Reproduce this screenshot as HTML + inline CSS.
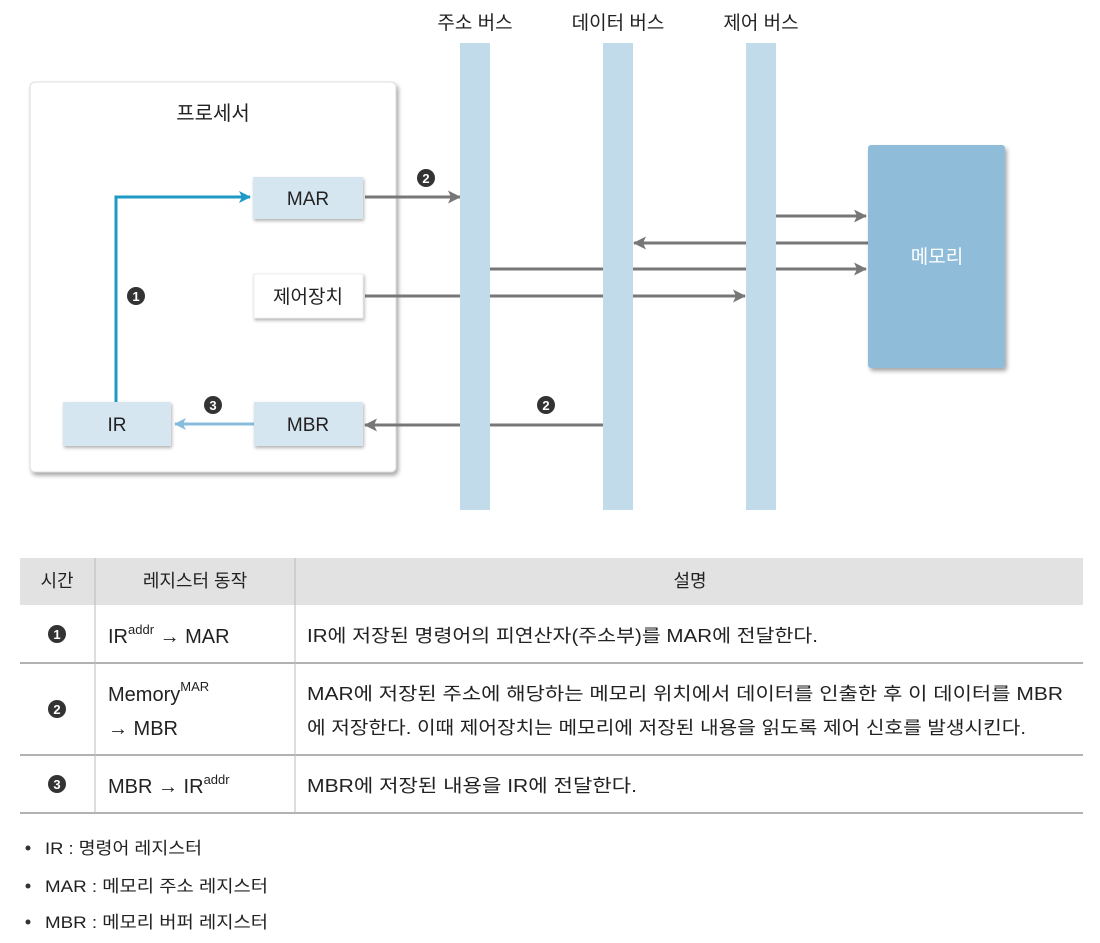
<!DOCTYPE html>
<html><head><meta charset="utf-8"><style>
html,body{margin:0;padding:0;background:#fff;}
svg text{font-family:"Liberation Sans","Noto Sans CJK KR",sans-serif;fill:#222;}
</style></head><body>
<svg width="1100" height="938" viewBox="0 0 1100 938" xmlns="http://www.w3.org/2000/svg">
<defs>
<filter id="sh" x="-10%" y="-10%" width="130%" height="130%"><feDropShadow dx="2" dy="3" stdDeviation="2" flood-color="#000" flood-opacity="0.35"/></filter>
<filter id="sh2" x="-10%" y="-10%" width="130%" height="130%"><feDropShadow dx="1" dy="2" stdDeviation="1.5" flood-color="#000" flood-opacity="0.3"/></filter>
<marker id="ag" markerWidth="13" markerHeight="13" refX="12" refY="6.5" orient="auto" markerUnits="userSpaceOnUse"><path d="M0,0 L13,6.5 L0,13 L3,6.5 Z" fill="#777"/></marker>
<marker id="ab" markerWidth="12" markerHeight="12" refX="11" refY="6" orient="auto" markerUnits="userSpaceOnUse"><path d="M0,0 L12,6 L0,12 L3,6 Z" fill="#1e9ac6"/></marker>
<marker id="al" markerWidth="12" markerHeight="12" refX="11" refY="6" orient="auto" markerUnits="userSpaceOnUse"><path d="M0,0 L12,6 L0,12 L3,6 Z" fill="#86bcdc"/></marker>
</defs>

<text x="475" y="29" font-size="19" text-anchor="middle">주소 버스</text>
<text x="618" y="29" font-size="19" text-anchor="middle">데이터 버스</text>
<text x="761" y="29" font-size="19" text-anchor="middle">제어 버스</text>

<rect x="30" y="82" width="366" height="390" rx="5" fill="#fff" stroke="#ddd" filter="url(#sh)"/>
<text x="213" y="120" font-size="20" text-anchor="middle">프로세서</text>

<g stroke="#777" stroke-width="3" fill="none">
<line x1="365" y1="197" x2="460" y2="197" marker-end="url(#ag)"/>
<line x1="776" y1="216" x2="866" y2="216" marker-end="url(#ag)"/>
<line x1="868" y1="243" x2="634" y2="243" marker-end="url(#ag)"/>
<line x1="490" y1="269" x2="866" y2="269" marker-end="url(#ag)"/>
<line x1="365" y1="296" x2="745" y2="296" marker-end="url(#ag)"/>
<line x1="603" y1="425" x2="365" y2="425" marker-end="url(#ag)"/>
</g>

<rect x="460" y="43" width="30" height="467" fill="#c2dbea"/>
<rect x="603" y="43" width="30" height="467" fill="#c2dbea"/>
<rect x="746" y="43" width="30" height="467" fill="#c2dbea"/>

<rect x="868" y="145" width="137" height="223" rx="3" fill="#8fbdd9" filter="url(#sh)"/>
<text x="937" y="263" font-size="19" text-anchor="middle" style="fill:#fff">메모리</text>

<polyline points="116,402 116,197 250,197" stroke="#1e9ac6" stroke-width="3" fill="none" marker-end="url(#ab)"/>
<line x1="254" y1="424" x2="175" y2="424" stroke="#86bcdc" stroke-width="3" marker-end="url(#al)"/>

<rect x="253" y="177" width="110" height="42" fill="#d6e6f1" filter="url(#sh2)"/>
<text x="308" y="205" font-size="19" text-anchor="middle">MAR</text>
<rect x="254" y="274" width="109" height="44" fill="#fff" stroke="#eee" filter="url(#sh2)"/>
<text x="308" y="303" font-size="19" text-anchor="middle">제어장치</text>
<rect x="63" y="402" width="108" height="44" fill="#d6e6f1" filter="url(#sh2)"/>
<text x="117" y="431" font-size="19" text-anchor="middle">IR</text>
<rect x="254" y="402" width="109" height="44" fill="#d6e6f1" filter="url(#sh2)"/>
<text x="308" y="431" font-size="19" text-anchor="middle">MBR</text>

<g font-size="13" font-weight="bold" text-anchor="middle">
<circle cx="136" cy="296" r="9" fill="#333"/><text x="136" y="301" style="fill:#fff">1</text>
<circle cx="426" cy="178" r="9" fill="#333"/><text x="426" y="183" style="fill:#fff">2</text>
<circle cx="546" cy="405" r="9" fill="#333"/><text x="546" y="410" style="fill:#fff">2</text>
<circle cx="213" cy="405" r="9" fill="#333"/><text x="213" y="410" style="fill:#fff">3</text>
</g>

<rect x="20" y="558" width="1063" height="47" fill="#e2e2e2"/>
<g stroke="#999" stroke-width="1.5">
<line x1="20" y1="663" x2="1083" y2="663"/>
<line x1="20" y1="755" x2="1083" y2="755"/>
<line x1="20" y1="813" x2="1083" y2="813"/>
</g>
<g stroke="#bbb" stroke-width="1">
<line x1="95" y1="558" x2="95" y2="813"/>
<line x1="295" y1="558" x2="295" y2="813"/>
</g>
<g font-size="18">
<text x="57" y="587" text-anchor="middle">시간</text>
<text x="195" y="587" text-anchor="middle">레지스터 동작</text>
<text x="690" y="587" text-anchor="middle">설명</text>
<text x="307" y="642" textLength="511" lengthAdjust="spacingAndGlyphs">IR에 저장된 명령어의 피연산자(주소부)를 MAR에 전달한다.</text>
<text x="307" y="700" textLength="756" lengthAdjust="spacingAndGlyphs">MAR에 저장된 주소에 해당하는 메모리 위치에서 데이터를 인출한 후 이 데이터를 MBR</text>
<text x="307" y="734" textLength="719" lengthAdjust="spacingAndGlyphs">에 저장한다. 이때 제어장치는 메모리에 저장된 내용을 읽도록 제어 신호를 발생시킨다.</text>
<text x="307" y="792" textLength="330" lengthAdjust="spacingAndGlyphs">MBR에 저장된 내용을 IR에 전달한다.</text>
</g>
<g font-size="20">
<text x="108" y="643">IR<tspan font-size="13" dy="-9">addr</tspan><tspan dy="9"> → MAR</tspan></text>
<text x="108" y="701">Memory<tspan font-size="13" dy="-10">MAR</tspan></text>
<text x="108" y="735">→ MBR</text>
<text x="108" y="793">MBR → IR<tspan font-size="13" dy="-9">addr</tspan></text>
</g>
<g font-weight="bold" text-anchor="middle">
<circle cx="57" cy="634" r="9" fill="#333"/><text x="57" y="639" font-size="13" style="fill:#fff">1</text>
<circle cx="57" cy="709" r="9" fill="#333"/><text x="57" y="714" font-size="13" style="fill:#fff">2</text>
<circle cx="57" cy="784" r="9" fill="#333"/><text x="57" y="789" font-size="13" style="fill:#fff">3</text>
</g>

<g font-size="17">
<circle cx="28" cy="848" r="2.5" fill="#333"/>
<text x="45" y="854" textLength="157" lengthAdjust="spacingAndGlyphs">IR : 명령어 레지스터</text>
<circle cx="28" cy="886" r="2.5" fill="#333"/>
<text x="45" y="892" textLength="223" lengthAdjust="spacingAndGlyphs">MAR : 메모리 주소 레지스터</text>
<circle cx="28" cy="922" r="2.5" fill="#333"/>
<text x="45" y="928" textLength="223" lengthAdjust="spacingAndGlyphs">MBR : 메모리 버퍼 레지스터</text>
</g>
</svg>
</body></html>
